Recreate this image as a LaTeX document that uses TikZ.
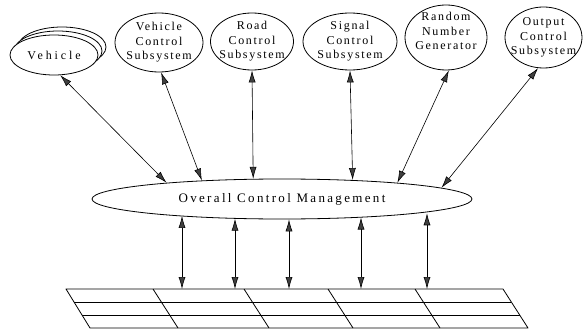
\documentclass[tikz,border=0pt]{standalone}
\usepackage{fontspec}
\setmainfont{Liberation Serif}
\newfontfamily\lblfont{Liberation Serif}[LetterSpace=14]
\newfontfamily\widefont{Liberation Serif}[LetterSpace=24]
\newfontfamily\ocmfont{Liberation Serif}[LetterSpace=18]
\usetikzlibrary{arrows.meta,shapes.geometric,calc}
\begin{document}
\begin{tikzpicture}[x=1pt,y=-1pt,
  ell/.style={draw=black, line width=0.8pt, fill=white, ellipse, inner sep=-10pt,
    font=\lblfont\fontsize{12}{14.5}\selectfont, align=center},
  bi/.style={line width=0.6pt, {Latex[length=12pt,width=7pt,fill=black!75]}-{Latex[length=12pt,width=7pt,fill=black!75]}},
  tbl/.style={line width=0.8pt, line join=round}]
\useasboundingbox (0,0) rectangle (584,329);
% top nodes
\node[ell, minimum width=88pt, minimum height=40pt] (veh2) at (62,47) {};
\node[ell, minimum width=88pt, minimum height=40pt] (veh1) at (58,51) {};
\node[ell, minimum width=88pt, minimum height=40pt, font=\widefont\fontsize{12}{14.5}\selectfont] (veh) at (54,55) {Vehicle};
\node[ell, minimum width=88pt, minimum height=59pt] (vcs) at (159,42.5) {Vehicle\\Control\\Subsystem};
\node[ell, minimum width=83pt, minimum height=57pt] (rcs) at (252,41.5) {Road\\Control\\Subsystem};
\node[ell, minimum width=94pt, minimum height=57pt] (scs) at (350,41.5) {Signal\\Control\\Subsystem};
\node[ell, minimum width=82pt, minimum height=65pt] (rng) at (446,37.5) {Random\\Number\\Generator\\[-2pt]\mbox{}};
\node[ell, minimum width=77pt, minimum height=61pt] (ocs) at (543.5,37.5) {Output\\Control\\Subsystem};
% central node
\node[ell, minimum width=380pt, minimum height=40pt, font=\ocmfont\fontsize{13}{15}\selectfont] (ocm) at (282,199) {Overall Control Management};
% table
\coordinate (tl) at (66,289);
\coordinate (tr) at (503,289);
\coordinate (br) at (528,328);
\coordinate (bl) at (90,328);
\draw[tbl] (tl) -- (tr) -- (br) -- (bl) -- cycle;
\draw[tbl] ($(tl)!1/3!(bl)$) -- ($(tr)!1/3!(br)$);
\draw[tbl] ($(tl)!2/3!(bl)$) -- ($(tr)!2/3!(br)$);
\foreach \x in {153,244,328,415} \draw[tbl] (\x,289) -- (\x+25,328);
% connection points on the table
\coordinate (c1) at (182,289);
\coordinate (c2) at (235,289);
\coordinate (c3) at (289,289);
\coordinate (c4) at (361,289);
\coordinate (c5) at (427,289);
% connectors top
\draw[bi] (veh.-73) -- (ocm.172.6);
\draw[bi] (vcs.-86) -- (ocm.167.4);
\draw[bi] (rcs.south) -- (ocm.145.7);
\draw[bi] (scs.south) -- (ocm.15.6);
\draw[bi] (rng.-85) -- (ocm.8.3);
\draw[bi] (ocs.-100) -- (ocm.4.7);
% connectors bottom
\draw[bi] (c1 |- ocm.189.6) -- (c1);
\draw[bi] (c2 |- ocm.202.4) -- (c2);
\draw[bi] (c3 |- ocm.289.3) -- (c3);
\draw[bi] (c4 |- ocm.347) -- (c4);
\draw[bi] (c5 |- ocm.354.9) -- (c5);
\end{tikzpicture}
\end{document}
